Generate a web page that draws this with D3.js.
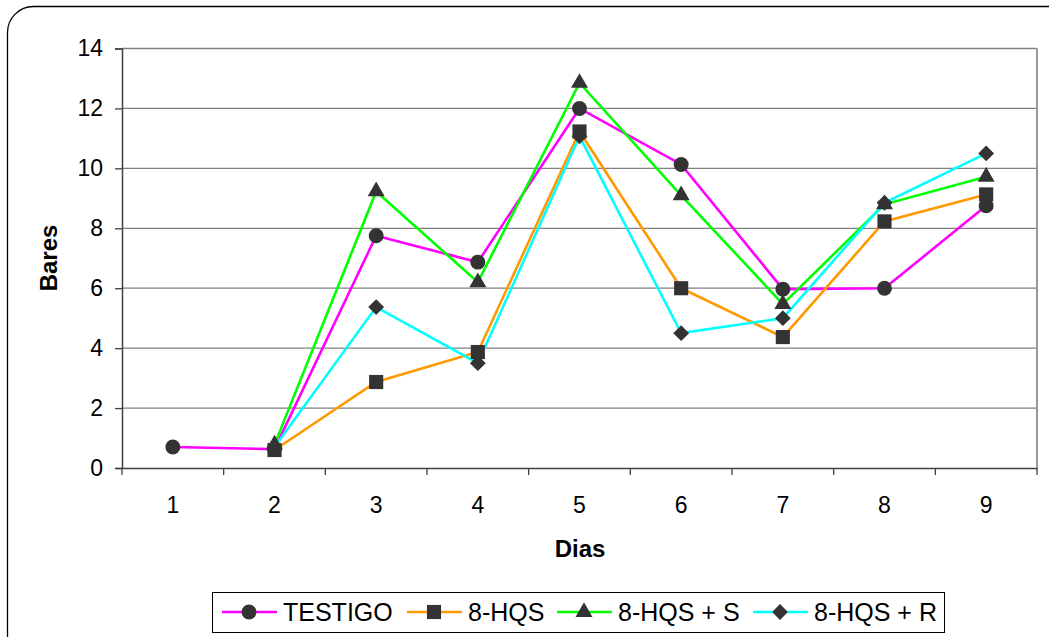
<!DOCTYPE html>
<html><head><meta charset="utf-8">
<script src="https://cdn.jsdelivr.net/npm/d3@7"></script>
<style>html,body{margin:0;padding:0;background:#fff;}svg{display:block;font-family:"Liberation Sans",Arial,sans-serif;}</style>
</head><body>
<svg id="c" width="1049" height="637"></svg>
<script>
const categories = [1,2,3,4,5,6,7,8,9];
const yTicks = [0,2,4,6,8,10,12,14];
const seriesNames = ["TESTIGO","8-HQS","8-HQS + S","8-HQS + R"];
const testigo = [0.7,0.63,7.75,6.87,12.0,10.13,5.97,6.0,8.75];
const hqs     = [null,0.6,2.87,3.87,11.23,6.0,4.37,8.23,9.13];
const hqsS    = [null,0.78,9.23,6.2,12.85,9.1,5.47,8.8,9.72];
const hqsR    = [null,0.7,5.37,3.5,11.07,4.5,5.0,8.85,10.5];
const seriesValues = [testigo,hqs,hqsS,hqsR];
const colors = ["#ff00ff","#ff9900","#00ff00","#00ffff"];
const symbols = [d3.symbolCircle,d3.symbolSquare,d3.symbolTriangle,d3.symbolSquare];
const symRot = [0,0,0,45];
const symSizes = [175,200,125,125];

const svg = d3.select("#c");
const L=122,R=1037,T=48.5,B=468;
const FONT = "Liberation Sans, Arial, sans-serif";

svg.append("rect").attr("x",7.5).attr("y",6.5).attr("width",1070).attr("height",660)
  .attr("rx",26).attr("fill","#fff").attr("stroke","#000").attr("stroke-width",1.3);

const x = d3.scaleBand().domain(categories).range([L,R]);
const y = d3.scaleLinear().domain([0,14]).range([B,T]);

// gridlines
svg.append("g").selectAll("line").data(yTicks.filter(d=>d>0)).join("line")
  .attr("x1",L).attr("x2",R).attr("y1",d=>y(d)).attr("y2",d=>y(d))
  .attr("stroke","#808080").attr("stroke-width",1.3);
svg.append("line").attr("x1",R).attr("x2",R).attr("y1",T).attr("y2",B).attr("stroke","#999").attr("stroke-width",2);

// y axis
const ya = svg.append("g").attr("transform",`translate(${L},0)`)
  .call(d3.axisLeft(y).tickValues(yTicks).tickSize(7).tickPadding(12));
ya.select(".domain").attr("stroke","#404040").attr("stroke-width",1.5);
ya.selectAll(".tick line").attr("stroke","#404040").attr("stroke-width",1.3);
ya.selectAll("text").attr("font-size","23px").attr("fill","#000").attr("font-family",FONT);

// x axis
const xa = svg.append("g").attr("transform",`translate(0,${B})`)
  .call(d3.axisBottom(x).tickSize(0).tickPadding(0));
xa.select(".domain").attr("stroke","#404040").attr("stroke-width",1.5);
xa.selectAll("text").attr("font-size","23px").attr("fill","#000").attr("font-family",FONT)
  .attr("dy",null).attr("y",45);
svg.append("g").selectAll("line").data(categories.concat([null])).join("line")
  .attr("x1",(d,i)=>L+i*x.step()).attr("x2",(d,i)=>L+i*x.step())
  .attr("y1",B).attr("y2",B+7).attr("stroke","#404040").attr("stroke-width",1.3);

// axis titles
svg.append("text").attr("x",580).attr("y",557).attr("text-anchor","middle")
  .attr("font-size","24px").attr("font-weight","bold").text("Dias");
svg.append("text").attr("transform","translate(57,258) rotate(-90)").attr("text-anchor","middle")
  .attr("font-size","24px").attr("font-weight","bold").text("Bares");

const cx = d => x(d)+x.bandwidth()/2;
const line = d3.line().defined(d=>d.v!==null).x(d=>cx(d.c)).y(d=>y(d.v));

seriesValues.forEach((vals,i)=>{
  const pts = categories.map((c,j)=>({c:c,v:vals[j]}));
  svg.append("path").datum(pts).attr("d",line).attr("fill","none")
    .attr("stroke",colors[i]).attr("stroke-width",2.6);
});
seriesValues.forEach((vals,i)=>{
  const pts = categories.map((c,j)=>({c:c,v:vals[j]})).filter(d=>d.v!==null);
  svg.append("g").selectAll("path").data(pts).join("path")
    .attr("d",d3.symbol().type(symbols[i]).size(symSizes[i]))
    .attr("transform",d=>`translate(${cx(d.c)},${y(d.v)}) rotate(${symRot[i]})`)
    .attr("fill","#333333");
});

// legend
const lg = svg.append("g");
lg.append("rect").attr("x",212.5).attr("y",592.5).attr("width",732).attr("height",40)
  .attr("fill","#fff").attr("stroke","#000").attr("stroke-width",1);
const lx = [222,407,557,753];
seriesNames.forEach((n,i)=>{
  const g = lg.append("g").attr("transform",`translate(${lx[i]},612)`);
  g.append("line").attr("x1",0).attr("x2",55).attr("y1",0).attr("y2",0).attr("stroke",colors[i]).attr("stroke-width",2.6);
  g.append("path").attr("d",d3.symbol().type(symbols[i]).size(symSizes[i])()).attr("transform",`translate(27,0) rotate(${symRot[i]})`).attr("fill","#333333");
  g.append("text").attr("x",61).attr("y",9).attr("font-size","25px").attr("font-family",FONT).text(n);
});
</script>
</body></html>
